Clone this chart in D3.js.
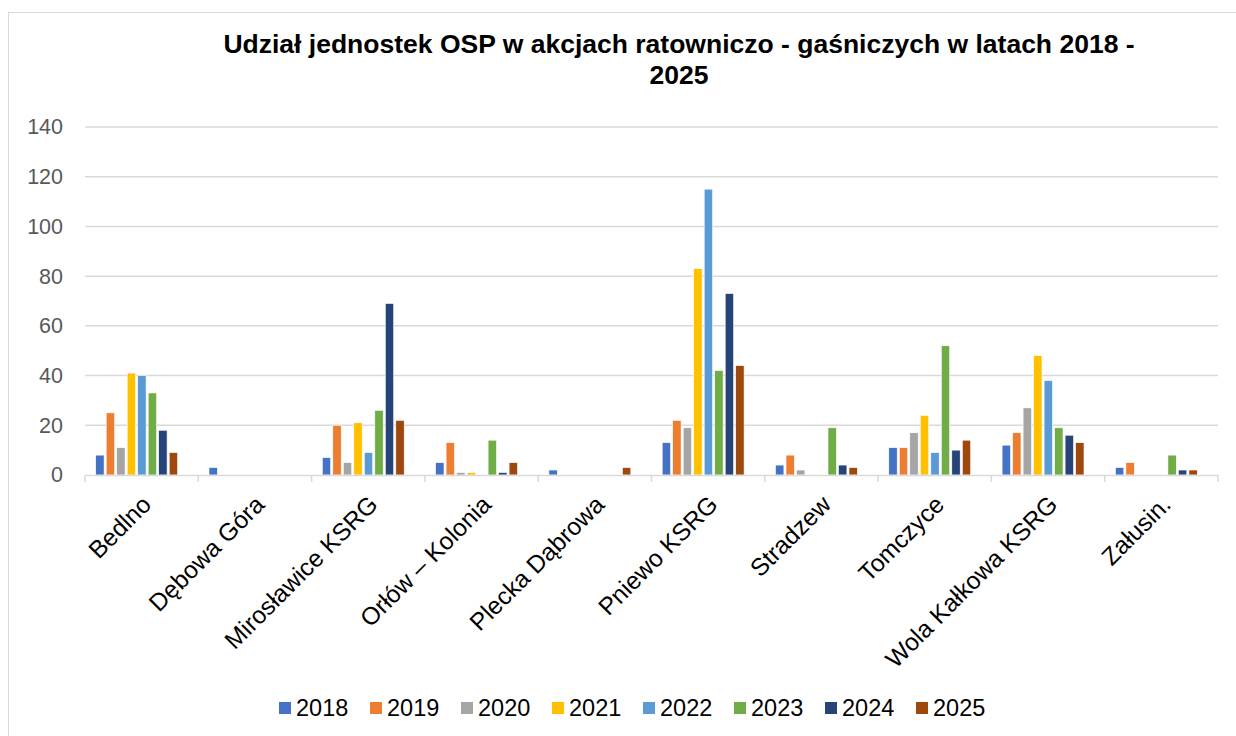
<!DOCTYPE html>
<html>
<head>
<meta charset="utf-8">
<script src="https://cdn.jsdelivr.net/npm/d3@7"></script>
<style>
  body { margin: 0; background: #fff; }
  text { font-family: "Liberation Sans", Arial, sans-serif; }
</style>
</head>
<body>
<script>
// data
var categories = ["Bedlno", "Dębowa Góra", "Mirosławice KSRG", "Orłów – Kolonia",
  "Plecka Dąbrowa", "Pniewo KSRG", "Stradzew", "Tomczyce", "Wola Kałkowa KSRG", "Załusin."];
var years = ["2018", "2019", "2020", "2021", "2022", "2023", "2024", "2025"];
var v2018 = [8, 3, 7, 5, 2, 13, 4, 11, 12, 3];
var v2019 = [25, 0, 20, 13, 0, 22, 8, 11, 17, 5];
var v2020 = [11, 0, 5, 1, 0, 19, 2, 17, 27, 0];
var v2021 = [41, 0, 21, 1, 0, 83, 0, 24, 48, 0];
var v2022 = [40, 0, 9, 0, 0, 115, 0, 9, 38, 0];
var v2023 = [33, 0, 26, 14, 0, 42, 19, 52, 19, 8];
var v2024 = [18, 0, 69, 1, 0, 73, 4, 10, 16, 2];
var v2025 = [9, 0, 22, 5, 3, 44, 3, 14, 13, 2];
var yTicks = [0, 20, 40, 60, 80, 100, 120, 140];
var colors = ["#4472C4", "#ED7D31", "#A5A5A5", "#FFC000", "#5B9BD5", "#70AD47", "#264478", "#9E480E"];

var series = [v2018, v2019, v2020, v2021, v2022, v2023, v2024, v2025];

var outerWidth = 1236, outerHeight = 736;
var margin = {top: 127, right: 18, bottom: 261, left: 85},
    width = outerWidth - margin.left - margin.right,
    height = outerHeight - margin.top - margin.bottom;

var svg = d3.select("body").append("svg")
    .attr("width", outerWidth)
    .attr("height", outerHeight);

// chart frame
svg.append("rect")
    .attr("x", 8.5).attr("y", 12.5)
    .attr("width", 1250).attr("height", 750)
    .attr("fill", "none")
    .attr("stroke", "#d9d9d9")
    .attr("stroke-width", 1);

// title
var title = svg.append("text")
    .attr("text-anchor", "middle")
    .attr("font-weight", "bold")
    .attr("font-size", 26.5)
    .attr("fill", "#000");
title.append("tspan").attr("x", 679).attr("y", 53)
    .text("Udział jednostek OSP w akcjach ratowniczo - gaśniczych w latach 2018 -");
title.append("tspan").attr("x", 679).attr("y", 84).text("2025");

var g = svg.append("g")
    .attr("transform", `translate(${margin.left},${margin.top})`);

// scales
var x0 = d3.scaleBand()
    .domain(categories)
    .range([0, width])
    .paddingInner(0.24)
    .paddingOuter(0.12);

// bar clusters sit a little left of the category centre
var xb = x0.copy().range([-5, width - 5]);

var x1 = d3.scaleBand()
    .domain(years)
    .range([0, x0.bandwidth()])
    .padding(0.2);

var y = d3.scaleLinear()
    .domain([0, 140])
    .range([height, 0]);

// gridlines
g.append("g")
    .selectAll("line")
    .data(yTicks.slice(1))
  .enter().append("line")
    .attr("x1", 0).attr("x2", width)
    .attr("y1", d => y(d)).attr("y2", d => y(d))
    .attr("stroke", "#d9d9d9")
    .attr("stroke-width", 1.5);

// y axis labels
var yAxis = d3.axisLeft(y)
    .tickValues(yTicks)
    .tickSize(0)
    .tickPadding(22);
var yg = g.append("g").call(yAxis);
yg.select(".domain").remove();
yg.selectAll("text")
    .attr("font-size", 21.5)
    .attr("font-family", "Liberation Sans, Arial, sans-serif")
    .attr("fill", "#595959");

// bars
var groups = g.selectAll(".group")
    .data(categories)
  .enter().append("g")
    .attr("class", "group")
    .attr("transform", d => `translate(${xb(d)},0)`);

groups.selectAll("rect")
    .data((c, i) => years.map((yr, j) => ({year: yr, value: series[j][i], color: colors[j]})))
  .enter().append("rect")
    .filter(d => d.value > 0)
    .attr("x", d => x1(d.year))
    .attr("width", x1.bandwidth())
    .attr("y", d => y(d.value))
    .attr("height", d => height - y(d.value))
    .attr("fill", d => d.color)
    .attr("stroke", "#fff")
    .attr("stroke-width", 0.6);

// x axis
var xAxis = d3.axisBottom(x0).tickSize(0).tickFormat("");
var xg = g.append("g")
    .attr("transform", `translate(0,${height})`)
    .call(xAxis);
xg.select(".domain")
    .attr("stroke", "#d9d9d9")
    .attr("stroke-width", 1.5);

// boundary tick marks
var step = x0.step();
xg.selectAll(".bound")
    .data(d3.range(categories.length + 1))
  .enter().append("line")
    .attr("x1", d => d * step).attr("x2", d => d * step)
    .attr("y1", 0).attr("y2", 7)
    .attr("stroke", "#d9d9d9")
    .attr("stroke-width", 1.5);

// category labels
xg.selectAll(".cat")
    .data(categories)
  .enter().append("text")
    .attr("class", "cat")
    .attr("text-anchor", "end")
    .attr("font-size", 24.5)
    .attr("fill", "#000")
    .attr("transform", d => `translate(${x0(d) + x0.bandwidth() / 2 + 11},31) rotate(-45)`)
    .text(d => d);

// legend
var legend = svg.append("g")
    .attr("transform", "translate(279,702)");
var item = legend.selectAll(".item")
    .data(years)
  .enter().append("g")
    .attr("transform", (d, i) => `translate(${i * 91},0)`);
item.append("rect")
    .attr("width", 12).attr("height", 12)
    .attr("fill", (d, i) => colors[i]);
item.append("text")
    .attr("x", 17).attr("y", 14)
    .attr("font-size", 23.5)
    .attr("fill", "#000")
    .text(d => d);
</script>
</body>
</html>
